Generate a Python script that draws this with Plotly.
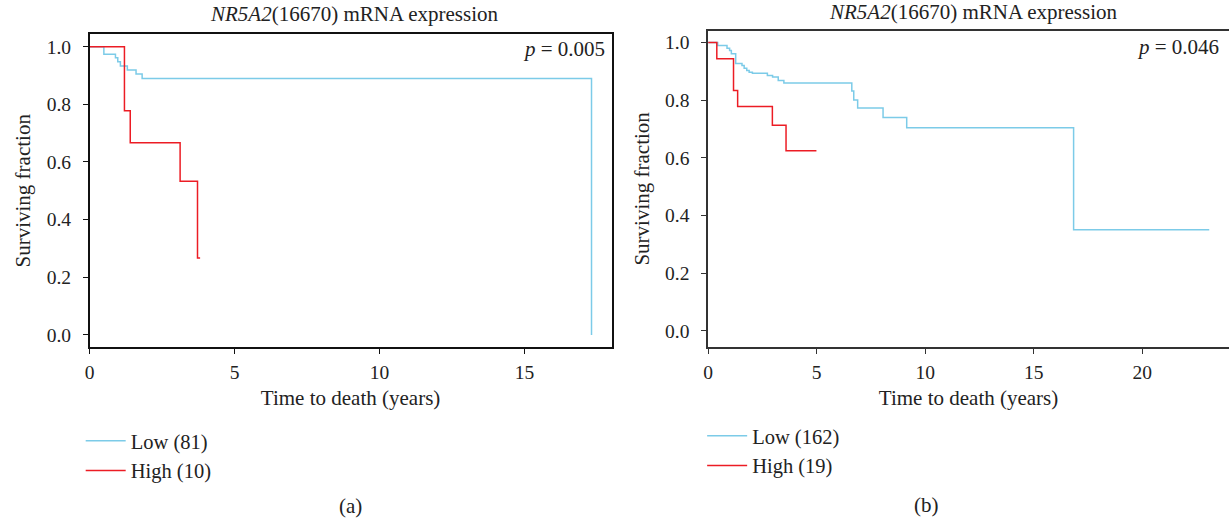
import plotly.graph_objects as go

# ---- data ----
a_low_t = [0, 0.49, 0.89, 0.97, 1.06, 1.30, 1.60, 1.81, 17.31]
a_low_s = [1.0, 0.974, 0.962, 0.948, 0.933, 0.919, 0.905, 0.890, 0.0]
a_high_t = [0, 1.20, 1.40, 3.12, 3.72, 3.81]
a_high_s = [1.0, 0.778, 0.667, 0.533, 0.267, 0.267]

b_low_t = [0, 0.44, 0.87, 0.99, 1.07, 1.27, 1.56, 1.66, 1.78, 1.89, 2.04, 2.73,
           2.97, 3.23, 3.49, 6.62, 6.71, 6.89, 8.06, 9.15, 16.84, 23.09]
b_low_s = [1.0, 0.990, 0.980, 0.972, 0.961, 0.927, 0.920, 0.911, 0.903, 0.897,
           0.893, 0.886, 0.880, 0.868, 0.860, 0.832, 0.801, 0.773, 0.740, 0.704,
           0.351, 0.351]
b_high_t = [0, 0.40, 1.17, 1.36, 2.96, 3.59, 4.99]
b_high_s = [1.0, 0.944, 0.834, 0.778, 0.713, 0.625, 0.625]

a_labels = ["Low (81)", "High (10)"]
b_labels = ["Low (162)", "High (19)"]
p_values = ["0.005", "0.046"]
x_ticks_a = [0, 5, 10, 15]
x_ticks_b = [0, 5, 10, 15, 20]
y_ticks = [0.0, 0.2, 0.4, 0.6, 0.8, 1.0]

BLUE = "#7ccbe8"
RED = "#ec1c24"
FONT = "Liberation Serif"
W, H = 1229, 520

fig = go.Figure()
fig.add_trace(go.Scatter(x=a_low_t, y=a_low_s, mode="lines", line=dict(shape="hv", color=BLUE, width=1.5),
                         name=a_labels[0], xaxis="x", yaxis="y", legend="legend"))
fig.add_trace(go.Scatter(x=a_high_t, y=a_high_s, mode="lines", line=dict(shape="hv", color=RED, width=1.5),
                         name=a_labels[1], xaxis="x", yaxis="y", legend="legend"))
fig.add_trace(go.Scatter(x=b_low_t, y=b_low_s, mode="lines", line=dict(shape="hv", color=BLUE, width=1.5),
                         name=b_labels[0], xaxis="x2", yaxis="y2", legend="legend2"))
fig.add_trace(go.Scatter(x=b_high_t, y=b_high_s, mode="lines", line=dict(shape="hv", color=RED, width=1.5),
                         name=b_labels[1], xaxis="x2", yaxis="y2", legend="legend2"))

tickfont = dict(family=FONT, size=19.5, color="#222")
titlefont = dict(family=FONT, size=21, color="#222")

def xax(domain, rng, ticks, lc, anchor):
    return dict(domain=domain, range=rng, tickvals=ticks, showline=True, linecolor=lc, linewidth=1.5,
                mirror=True, ticks="outside", ticklen=5, tickcolor=lc, tickwidth=1.2, showgrid=False,
                zeroline=False, tickfont=tickfont, fixedrange=True, anchor=anchor, ticklabelstandoff=2,
                title=dict(text="Time to death (years)", font=titlefont, standoff=8))

def yax(domain, rng, anchor, lc, mirror):
    return dict(domain=domain, range=rng, tickvals=y_ticks, tickformat=".1f", showline=True, linecolor=lc,
                linewidth=1.5, mirror=mirror, ticks="outside", ticklen=5, tickcolor=lc, tickwidth=1.2,
                showgrid=False, zeroline=False, tickfont=tickfont, anchor=anchor, fixedrange=True,
                ticklabelstandoff=8,
                title=dict(text="Surviving fraction", font=titlefont, standoff=10))

fig.update_layout(
    width=W, height=H, margin=dict(l=0, r=0, t=0, b=0),
    paper_bgcolor="white", plot_bgcolor="white",
    font=dict(family=FONT, size=20, color="#222"),
    xaxis=xax([85 / W, 609 / W], [0, 18], x_ticks_a, "#111", "y"),
    yaxis=yax([1 - 347.3 / H, 1 - 34.3 / H], [-0.043, 1.043], "x", "#111", True),
    xaxis2=xax([706 / W, 1.0], [0, 24], x_ticks_b, "#333", "y2"),
    yaxis2=yax([1 - 347 / H, 1 - 30.7 / H], [-0.056, 1.041], "x2", "#333", False),
    legend=dict(x=76 / W, xanchor="left", y=1 - 421 / H, yanchor="top", bgcolor="rgba(0,0,0,0)",
                font=dict(family=FONT, size=20.5, color="#222"), tracegroupgap=0, itemwidth=40),
    legend2=dict(x=700 / W, xanchor="left", y=1 - 416 / H, yanchor="top", bgcolor="rgba(0,0,0,0)",
                 font=dict(family=FONT, size=20.5, color="#222"), tracegroupgap=0, itemwidth=40),
    showlegend=True,
)

ann = []
ann.append(dict(text="<i>NR5A2</i>(16670) mRNA expression", x=350 / W, y=1 - 14 / H, xref="paper", yref="paper",
                showarrow=False, font=titlefont, xanchor="center", yanchor="middle"))
ann.append(dict(text="<i>NR5A2</i>(16670) mRNA expression", x=972 / W, y=1 - 12 / H, xref="paper", yref="paper",
                showarrow=False, font=titlefont, xanchor="center", yanchor="middle"))
ann.append(dict(text="<i>p</i> = " + p_values[0], x=604 / W, y=1 - 49 / H, xref="paper", yref="paper",
                showarrow=False, font=titlefont, xanchor="right", yanchor="middle"))
ann.append(dict(text="<i>p</i> = " + p_values[1], x=1221 / W, y=1 - 47 / H, xref="paper", yref="paper",
                showarrow=False, font=titlefont, xanchor="right", yanchor="middle"))
ann.append(dict(text="(a)", x=347 / W, y=1 - 506 / H, xref="paper", yref="paper",
                showarrow=False, font=titlefont, xanchor="center", yanchor="middle"))
ann.append(dict(text="(b)", x=925 / W, y=1 - 505 / H, xref="paper", yref="paper",
                showarrow=False, font=titlefont, xanchor="center", yanchor="middle"))
fig.update_layout(annotations=ann)

fig.write_html("out.html", config={"displayModeBar": False},
               post_script="document.body.style.margin='0';document.body.style.overflow='hidden';")
